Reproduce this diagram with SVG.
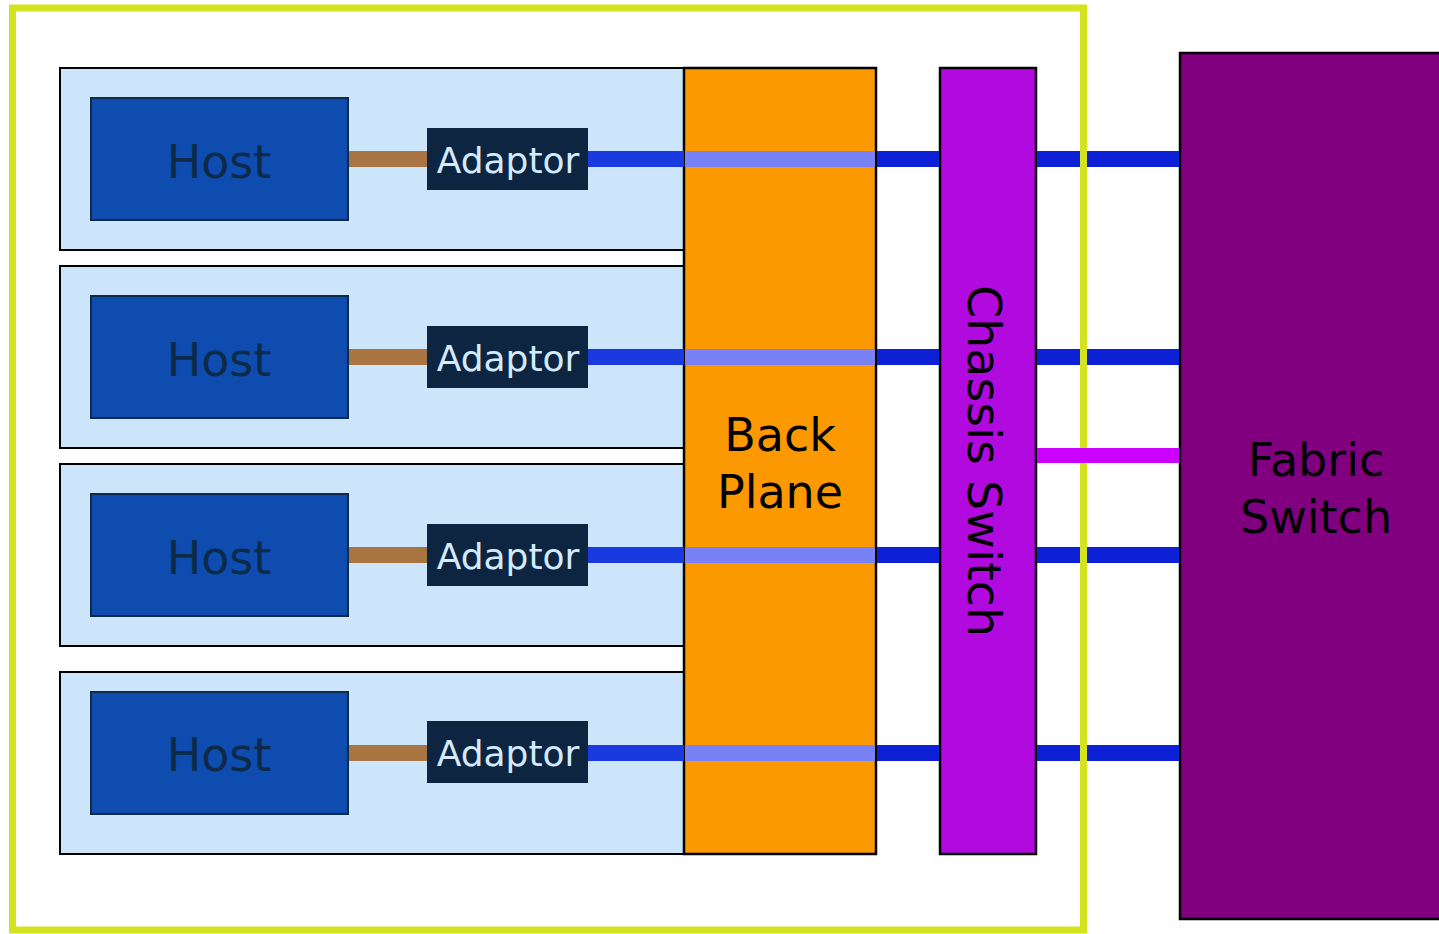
<svg xmlns="http://www.w3.org/2000/svg" width="1439" height="934" viewBox="0 0 1439 934">
<style>
.card{fill:#cce5fb;stroke:#000;stroke-width:2}
.host{fill:#0e4cb0;stroke:#0d2a48;stroke-width:2}
.hostt{font-family:"DejaVu Sans",sans-serif;font-size:46px;fill:#0d2a48;text-anchor:middle}
.adap{fill:#0d2540}
.adapt{font-family:"DejaVu Sans",sans-serif;font-size:36px;fill:#d4eaff;text-anchor:middle}
.big{font-family:"DejaVu Sans",sans-serif;font-size:46px;fill:#000;text-anchor:middle}
.brown{fill:#a87442}
.b1{fill:#1a3ae0}
.b2{fill:#7882f5}
.b3{fill:#0c20d6}
</style>
<rect x="0" y="0" width="1439" height="934" fill="#fff"/>
<g id="card1"><rect class="card" x="60" y="68" width="624" height="182"/></g>
<g id="card2"><rect class="card" x="60" y="266" width="624" height="182"/></g>
<g id="card3"><rect class="card" x="60" y="464" width="624" height="182"/></g>
<g id="card4"><rect class="card" x="60" y="672" width="624" height="182"/></g>
<g id="host1"><rect class="host" x="91" y="98" width="257" height="122"/><text class="hostt" x="219" y="178">Host</text></g>
<g id="host2"><rect class="host" x="91" y="296" width="257" height="122"/><text class="hostt" x="219" y="376">Host</text></g>
<g id="host3"><rect class="host" x="91" y="494" width="257" height="122"/><text class="hostt" x="219" y="574">Host</text></g>
<g id="host4"><rect class="host" x="91" y="692" width="257" height="122"/><text class="hostt" x="219" y="771">Host</text></g>
<g id="adaptor1"><rect class="adap" x="427" y="128" width="161" height="62"/><text class="adapt" x="508" y="173">Adaptor</text></g>
<g id="adaptor2"><rect class="adap" x="427" y="326" width="161" height="62"/><text class="adapt" x="508" y="371">Adaptor</text></g>
<g id="adaptor3"><rect class="adap" x="427" y="524" width="161" height="62"/><text class="adapt" x="508" y="569">Adaptor</text></g>
<g id="adaptor4"><rect class="adap" x="427" y="721" width="161" height="62"/><text class="adapt" x="508" y="766">Adaptor</text></g>
<g id="backplane"><rect x="684" y="68" width="192" height="786" fill="#fc9900" stroke="#000" stroke-width="2.5"/><text class="big" x="780" y="451">Back</text><text class="big" x="780" y="508">Plane</text></g>
<g id="chassis-switch"><rect x="940" y="68" width="96" height="786" fill="#b00ade" stroke="#000" stroke-width="2.5"/><text class="big" x="0" y="0" transform="translate(968 461) rotate(90)" textLength="352" lengthAdjust="spacingAndGlyphs">Chassis Switch</text></g>
<g id="fabric-switch"><rect x="1180" y="53" width="270" height="866" fill="#800080" stroke="#000" stroke-width="2.5"/><text class="big" x="1316" y="476">Fabric</text><text class="big" x="1316" y="533">Switch</text></g>
<g id="connectors">
<rect class="brown" x="349" y="151" width="78" height="16"/>
<rect class="brown" x="349" y="349" width="78" height="16"/>
<rect class="brown" x="349" y="547" width="78" height="16"/>
<rect class="brown" x="349" y="745" width="78" height="16"/>
<rect class="b1" x="588" y="151" width="96" height="16"/>
<rect class="b1" x="588" y="349" width="96" height="16"/>
<rect class="b1" x="588" y="547" width="96" height="16"/>
<rect class="b1" x="588" y="745" width="96" height="16"/>
<rect class="b2" x="685" y="151" width="190" height="16"/>
<rect class="b2" x="685" y="349" width="190" height="16"/>
<rect class="b2" x="685" y="547" width="190" height="16"/>
<rect class="b2" x="685" y="745" width="190" height="16"/>
<rect class="b3" x="877" y="151" width="62" height="16"/>
<rect class="b3" x="877" y="349" width="62" height="16"/>
<rect class="b3" x="877" y="547" width="62" height="16"/>
<rect class="b3" x="877" y="745" width="62" height="16"/>
<rect class="b3" x="1037" y="151" width="142" height="16"/>
<rect class="b3" x="1037" y="349" width="142" height="16"/>
<rect class="b3" x="1037" y="547" width="142" height="16"/>
<rect class="b3" x="1037" y="745" width="142" height="16"/>
</g>
<g id="enclosure"><rect x="12.5" y="8" width="1071" height="922" fill="none" stroke="#d4e31f" stroke-width="7"/></g>
<g id="uplink"><rect x="1037" y="448" width="142" height="15" fill="#cc00ff"/></g>
</svg>
